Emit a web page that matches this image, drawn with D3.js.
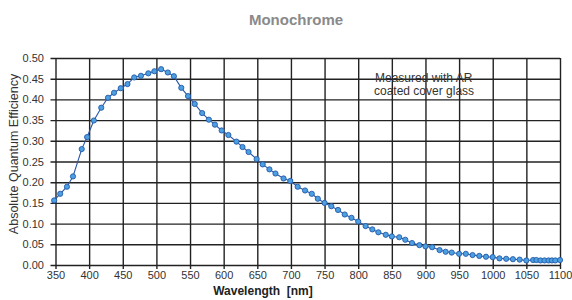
<!DOCTYPE html>
<html>
<head>
<meta charset="utf-8">
<script src="https://cdn.jsdelivr.net/npm/d3@7"></script>
<style>
  body { margin: 0; background: #fff; }
  text { font-family: "Liberation Sans", Arial, sans-serif; }
</style>
</head>
<body>
<div id="chart"></div>
<script>
// wavelengths (nm) and quantum efficiency
var wavelength = [348, 357, 367, 376, 389, 397, 407, 418, 428, 437, 447, 457, 467, 477, 488, 497, 507, 517, 526,
  537, 547, 557, 568, 578, 587, 597, 607, 619, 628, 637, 649, 658, 668, 677, 689, 699,
  710, 721, 731, 740, 750, 760, 770, 780, 790, 800, 811, 821, 830, 841, 850, 861, 870, 880, 891,
  900, 910, 921, 930, 939, 950, 960, 970, 980, 990, 1000, 1010, 1020, 1030, 1040, 1050,
  1060, 1065, 1071, 1077, 1083, 1088, 1093, 1100];
var qe = [0.156, 0.172, 0.189, 0.214, 0.280, 0.309, 0.349, 0.380, 0.404, 0.416, 0.427, 0.437, 0.453, 0.457, 0.463, 0.468, 0.473, 0.465, 0.456,
  0.428, 0.408, 0.389, 0.367, 0.351, 0.339, 0.325, 0.314, 0.298, 0.285, 0.273, 0.256, 0.243, 0.231, 0.221, 0.209, 0.203,
  0.189, 0.180, 0.172, 0.160, 0.150, 0.142, 0.133, 0.122, 0.114, 0.105, 0.094, 0.086, 0.079, 0.073, 0.069, 0.067, 0.061, 0.053, 0.048,
  0.045, 0.043, 0.036, 0.032, 0.030, 0.027, 0.027, 0.024, 0.022, 0.020, 0.019, 0.016, 0.015, 0.014, 0.013, 0.011,
  0.012, 0.012, 0.011, 0.011, 0.011, 0.011, 0.011, 0.012];
var xTicks = d3.range(350, 1101, 50);
var yTicks = d3.range(0, 0.501, 0.05);

var width = 572, height = 300;
var margin = {top: 58, right: 12, bottom: 35, left: 55.5};

var svg = d3.select("#chart").append("svg")
  .attr("width", width)
  .attr("height", height);

var x = d3.scaleLinear().domain([350, 1100]).range([margin.left, width - margin.right]);
var y = d3.scaleLinear().domain([0, 0.5]).range([height - margin.bottom, margin.top]);

var data = wavelength.map(function(w, i) { return {w: w, v: qe[i]}; });

// grid with ticks sticking out
var yAxis = d3.axisLeft(y).tickValues(yTicks).tickFormat(d3.format(".2f"))
  .tickSizeInner(-(x(1100) - x(350))).tickSizeOuter(0).tickPadding(11.5);
var gy = svg.append("g")
  .attr("transform", "translate(" + x(350) + ",0)")
  .call(yAxis);
gy.selectAll(".tick line").attr("x1", -5).attr("x2", x(1100) - x(350));

var xAxis = d3.axisBottom(x).tickValues(xTicks).tickFormat(d3.format("d"))
  .tickSizeInner(4).tickSizeOuter(0).tickPadding(2);
var gx = svg.append("g")
  .attr("transform", "translate(0," + y(0) + ")")
  .call(xAxis);
gx.selectAll(".tick line").attr("y1", -(y(0) - y(0.5))).attr("y2", 4);

[gx, gy].forEach(function(g) {
  g.select(".domain").remove();
  g.selectAll(".tick line").attr("stroke", "#222").attr("stroke-width", 1.4);
  g.selectAll(".tick text").attr("fill", "#333").style("font-size", "11px");
});

// annotation
svg.append("text").attr("x", 375).attr("y", 81.5)
  .style("font-size", "12px").attr("fill", "#333").text("Measured with AR");
svg.append("text").attr("x", 374).attr("y", 94.5)
  .style("font-size", "12px").attr("fill", "#333").text("coated cover glass");

// curve
var line = d3.line().x(function(d) { return x(d.w); }).y(function(d) { return y(d.v); });
svg.append("path").datum(data)
  .attr("d", line)
  .attr("fill", "none")
  .attr("stroke", "#2b57a8")
  .attr("stroke-width", 1.1);

svg.selectAll("circle.pt").data(data).enter()
  .append("circle")
  .attr("class", "pt")
  .attr("cx", function(d) { return x(d.w); })
  .attr("cy", function(d) { return y(d.v); })
  .attr("r", 2.6)
  .attr("fill", "#4c9fe0")
  .attr("stroke", "#245aa8")
  .attr("stroke-width", 0.9);

// titles
svg.append("text").attr("x", 296).attr("y", 25)
  .attr("text-anchor", "middle")
  .style("font-size", "15px").style("font-weight", "bold")
  .attr("fill", "#8a8a8a").text("Monochrome");

svg.append("text").attr("x", 263).attr("y", 295)
  .attr("text-anchor", "middle")
  .style("font-size", "12px").style("font-weight", "bold")
  .attr("fill", "#222").attr("xml:space", "preserve").text("Wavelength  [nm]");

svg.append("text")
  .attr("transform", "translate(18,154) rotate(-90)")
  .attr("text-anchor", "middle")
  .style("font-size", "12.5px")
  .attr("fill", "#333").text("Absolute Quantum Efficiency");
</script>
</body>
</html>
